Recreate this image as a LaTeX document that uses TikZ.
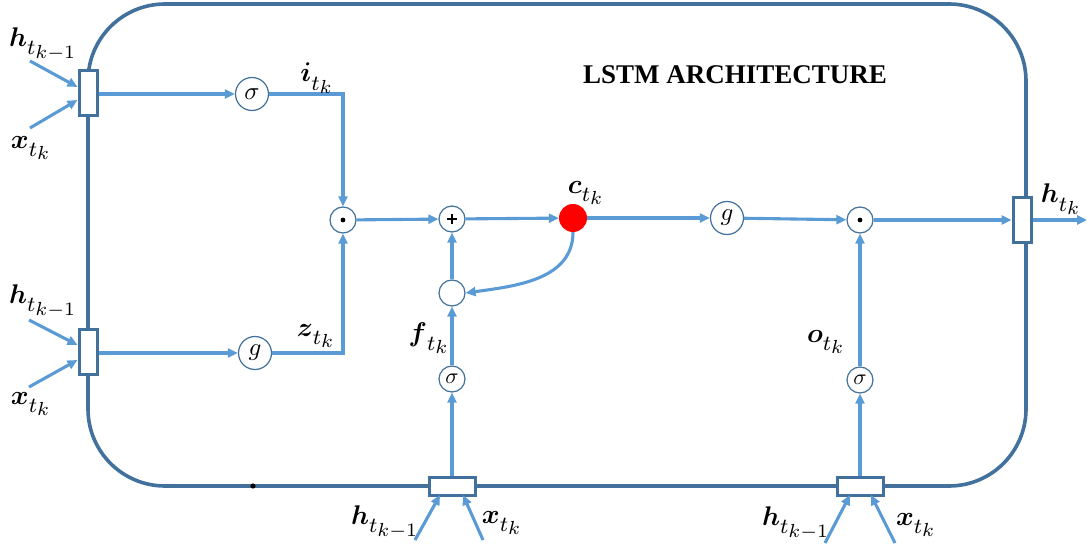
\documentclass[tikz,border=0pt]{standalone}
\usepackage{bm}
\usepackage{graphicx}
\usepackage{fontspec}
\newfontfamily\titlefont{Liberation Serif}
\usetikzlibrary{arrows.meta}
\definecolor{conn}{RGB}{91,155,213}
\definecolor{frm}{RGB}{65,113,156}
% bold main symbol, subscript t, sub-subscript; composed at 10pt and scaled
\newcommand\lbl[2]{\scalebox{2.7}{$\bm{#1}$\raisebox{-3.2pt}{\fontsize{8}{8}\selectfont$t$\raisebox{-1.2pt}{\fontsize{7}{7}\selectfont$#2$}}}}
\newcommand\opbig[1]{\scalebox{2.5}{$#1$}}
\newcommand\opsmall[1]{\scalebox{2.2}{$#1$}}
\tikzset{
  frame/.style={draw=frm,line width=3.6pt},
  conn/.style={draw=conn,line width=3.1pt,-{Triangle[length=10pt,width=9pt]}},
  op/.style={circle,draw=frm,line width=1.2pt,fill=white,inner sep=0pt,minimum size=26pt},
  bigop/.style={op,minimum size=33pt},
  vbox/.style={draw=frm,line width=3pt,fill=white,minimum width=18pt,minimum height=45pt,inner sep=0pt},
  hbox/.style={draw=frm,line width=3pt,fill=white,minimum width=46pt,minimum height=18pt,inner sep=0pt},
  lab/.style={inner sep=0pt},
  glyph/.style={line width=2.6pt,draw=black},
}
\begin{document}
\begin{tikzpicture}[x=1pt,y=-1pt]
\useasboundingbox (0,0) rectangle (1090,548);
% frame
\draw[frame,rounded corners=77pt] (88,4) rectangle (1026,486);
\fill (253,486) circle (2.6pt);
% boxes
\node[vbox] (b1) at (88,93) {};
\node[vbox] (b2) at (88,352) {};
\node[vbox] (b3) at (1022,220) {};
\node[hbox] (b4) at (452,486) {};
\node[hbox] (b5) at (860,486) {};
% operators
\node[bigop] (s1) at (252,94) {\opbig{\sigma}};
\node[bigop] (g1) at (255,353) {\opbig{g}};
\node[op] (m1) at (343,220) {};
\node[op] (p1) at (452,219) {};
\node[circle,fill=red,minimum size=28pt,inner sep=0pt] (c1) at (573,218) {};
\node[op] (e1) at (452,293) {};
\node[op] (s2) at (452,379) {\opsmall{\sigma}};
\node[bigop] (g2) at (727,218) {\opbig{g}};
\node[op] (m2) at (860,220) {};
\node[op] (s3) at (860,380) {\opsmall{\sigma}};
% operator glyphs
\fill (m1.center) circle (2.4pt);
\fill (m2.center) circle (2.4pt);
\draw[glyph] ([xshift=-5pt]p1.center) -- ([xshift=5pt]p1.center);
\draw[glyph] ([yshift=-5pt]p1.center) -- ([yshift=5pt]p1.center);
% free ends
\coordinate (h1s) at (30,61);  \coordinate (x1s) at (30,128);
\coordinate (h2s) at (29,320); \coordinate (x2s) at (29,387);
\coordinate (h4s) at (415,540); \coordinate (x4s) at (483,540);
\coordinate (h5s) at (825,543); \coordinate (x5s) at (895,543);
\coordinate (out) at (1087,220);
% inputs
\draw[conn] (h1s) -- (b1.west |- 0,87);
\draw[conn] (x1s) -- (b1.west |- 0,100);
\draw[conn] (h2s) -- (b2.west |- 0,345);
\draw[conn] (x2s) -- (b2.west |- 0,360);
\draw[conn] (h4s) -- (440,495);
\draw[conn] (x4s) -- (463,495);
\draw[conn] (h5s) -- (850,495);
\draw[conn] (x5s) -- (871,495);
% connectors
\draw[conn] (b1.east |- s1) -- (s1);
\draw[conn] (b2.east |- g1) -- (g1);
\draw[conn] (s1.east) -| (m1.north);
\draw[conn] (g1.east) -| (m1.south);
\draw[conn] (m1) -- (p1);
\draw[conn] (p1) -- (c1);
\draw[conn] (c1) -- (g2);
\draw[conn] (g2) -- (m2);
\draw[conn] (m2) -- (b3.west |- m2);
\draw[conn] (b3.east) -- (out);
\draw[conn] (c1.south) to[out=-90,in=8] (e1.east);
\draw[conn] (e1) -- (p1);
\draw[conn] (s2) -- (e1);
\draw[conn] (b4.north) -- (s2);
\draw[conn] (b5.north) -- (s3);
\draw[conn] (s3) -- (m2);
% labels
\node[lab] (lh1) at (42,44) {\lbl{h}{k{-}1}};
\node[lab] (lx1) at (30,148) {\lbl{x}{k}};
\node[lab] (lh2) at (42,301) {\lbl{h}{k{-}1}};
\node[lab] (lx2) at (30,404) {\lbl{x}{k}};
\node[lab] (li) at (316,78) {\lbl{i}{k}};
\node[lab] (lz) at (315,336) {\lbl{z}{k}};
\node[lab] (lf) at (428,338) {\lbl{f}{k}};
\node[lab] (lc) at (585,193) {\lbl{c}{k}};
\node[lab] (lo) at (825,342) {\lbl{o}{k}};
\node[lab] (lh3) at (1060,199) {\lbl{h}{k}};
\node[lab] (lh4) at (384,522) {\lbl{h}{k{-}1}};
\node[lab] (lx4) at (501,523) {\lbl{x}{k}};
\node[lab] (lh5) at (795,523) {\lbl{h}{k{-}1}};
\node[lab] (lx5) at (915,525) {\lbl{x}{k}};
\node[inner sep=0pt,font=\fontsize{27}{27}\selectfont\titlefont\bfseries] (title) at (735,75) {LSTM ARCHITECTURE};
\end{tikzpicture}
\end{document}
